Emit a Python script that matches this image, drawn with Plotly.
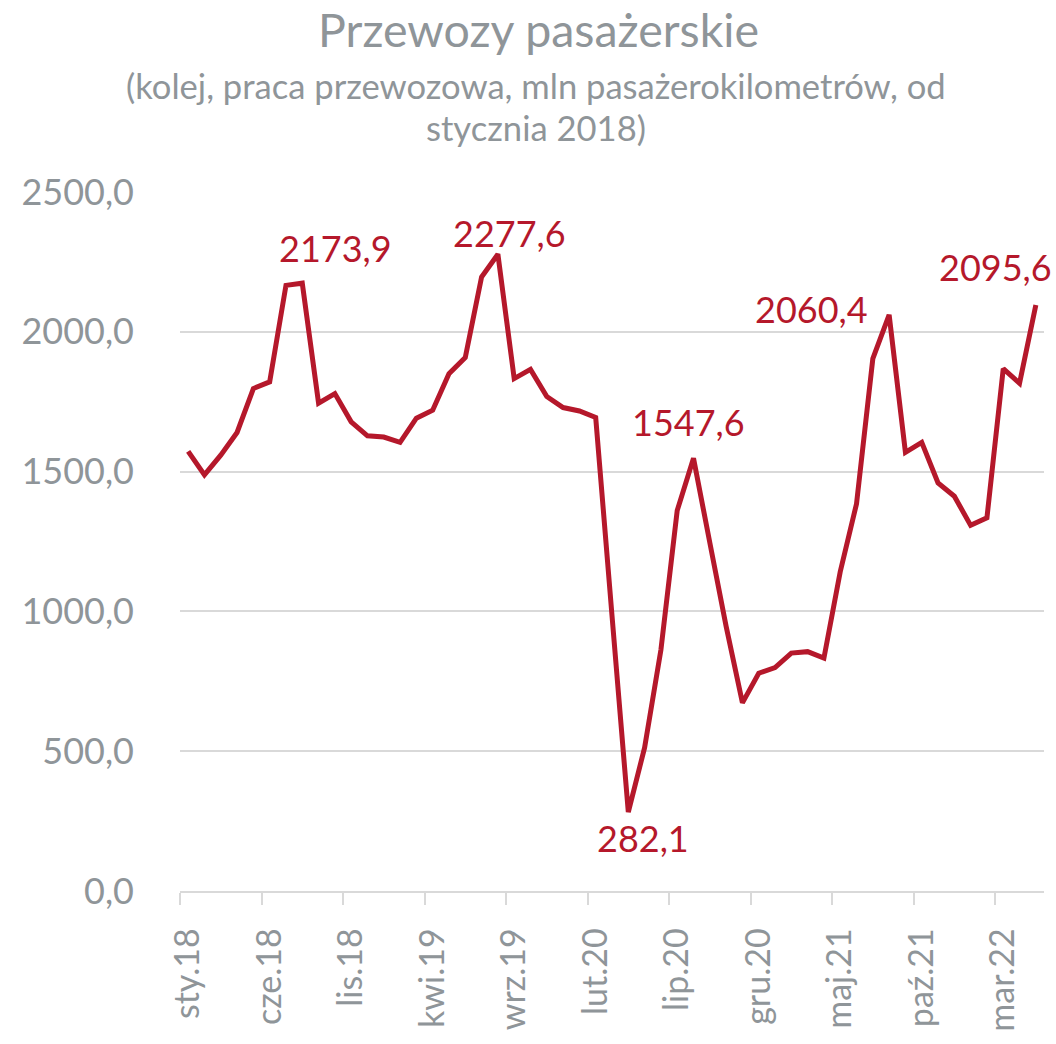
import plotly.graph_objects as go

months = ["sty", "lut", "mar", "kwi", "maj", "cze", "lip", "sie", "wrz", "paź", "lis", "gru"]
categories = [f"{months[i % 12]}.{18 + i // 12}" for i in range(53)]

values = [
    1572.6, 1488.0, 1559.0, 1640.0, 1797.0, 1821.0, 2166.0, 2173.9, 1744.7, 1779.0,
    1678.0, 1628.0, 1623.5, 1604.6, 1691.0, 1719.7, 1850.0, 1908.0, 2196.0, 2277.6,
    1832.6, 1865.7, 1768.5, 1729.0, 1717.0, 1693.7, 985.0, 282.1, 512.5, 862.5,
    1361.0, 1547.6, 1246.0, 947.0, 673.0, 779.0, 799.0, 851.0, 856.0, 833.0,
    1141.7, 1385.0, 1904.0, 2060.4, 1569.0, 1604.7, 1459.7, 1412.0, 1307.7, 1335.0,
    1868.0, 1816.0, 2095.6,
]

label_idx = [7, 19, 27, 31, 43, 52]
label_shift = [(33, 35), (12, 21), (15, -26), (-5, 36), (-78, 6), (-40, 38)]

tick_idx = list(range(0, 53, 5))

title_text = "Przewozy pasażerskie"
subtitle_lines = ["(kolej, praca przewozowa, mln pasażerokilometrów, od", "stycznia 2018)"]

RED = "#B5182B"
GRAY = "#8F9599"
FONT = "Lato"

x = list(range(len(values)))

fig = go.Figure()
fig.add_trace(go.Scatter(
    x=x, y=values, mode="lines",
    line=dict(color=RED, width=5),
    hoverinfo="skip", showlegend=False,
))

for i, (dx, dy) in zip(label_idx, label_shift):
    fig.add_annotation(
        x=i, y=values[i], text=f"{values[i]:.1f}".replace(".", ","),
        showarrow=False, xshift=dx, yshift=dy,
        font=dict(family=FONT, size=36, color=RED),
    )

# title and subtitle
fig.add_annotation(x=0.4144, y=1.2330, xref="paper", yref="paper", text=title_text,
                   showarrow=False, xanchor="center", yanchor="middle",
                   font=dict(family=FONT, size=46.5, color=GRAY))
for line, yy in zip(subtitle_lines, [1.1524, 1.0926]):
    fig.add_annotation(x=0.4126, y=yy, xref="paper", yref="paper", text=line,
                       showarrow=False, xanchor="center", yanchor="middle",
                       font=dict(family=FONT, size=34.6, color=GRAY))

fig.update_layout(
    width=1056, height=1044,
    margin=dict(l=180, r=12, t=192, b=150),
    paper_bgcolor="white", plot_bgcolor="white",
    separators=", ",
    font=dict(family=FONT, color=GRAY),
)

fig.update_xaxes(
    range=[-0.5, 52.5],
    tickmode="array", tickvals=tick_idx, ticktext=[categories[i] for i in tick_idx],
    tickangle=-90, ticks="outside", ticklen=22, tickcolor="rgba(0,0,0,0)",
    tickfont=dict(family=FONT, size=34, color=GRAY),
    showgrid=False, zeroline=False,
    showline=True, linecolor="#D9D9D9", linewidth=1.5,
    minor=dict(tickmode="array", tickvals=[i - 0.5 for i in tick_idx],
               ticks="outside", ticklen=12, tickcolor="#D9D9D9", tickwidth=1.5, showgrid=False),
)

fig.update_yaxes(
    range=[0, 2500], tickvals=[0, 500, 1000, 1500, 2000, 2500], tickformat=".1f",
    showgrid=True, gridcolor="#D9D9D9", gridwidth=1.5,
    zeroline=False, showline=False, ticks="", ticklabelstandoff=45,
    tickfont=dict(family=FONT, size=36, color=GRAY),
)

fig.write_html("out.html", config={"displayModeBar": False},
               post_script="document.body.style.margin='0px';")
